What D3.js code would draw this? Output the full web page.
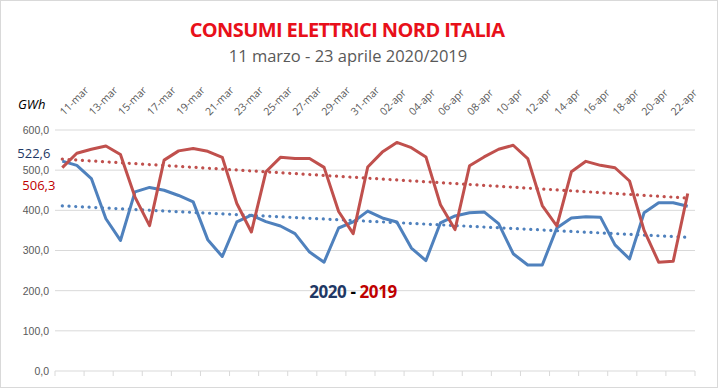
<!DOCTYPE html>
<meta charset="utf-8">
<style>
body { margin: 0; background: #fff; }
svg { display: block; font-family: "Open Sans", sans-serif; }
.grid line { stroke: #d9d9d9; stroke-width: 1px; }
.axis text { fill: #595959; font-size: 10.5px; }
.line { fill: none; stroke-width: 3px; stroke-linejoin: round; }
.trend { fill: none; stroke-width: 3.2px; stroke-linecap: round; stroke-dasharray: 0.1 6.6; }
</style>
<body>
<script src="https://d3js.org/d3.v7.min.js"></script>
<script>

// giorni dall'11 marzo al 23 aprile
var days = ["11-mar","12-mar","13-mar","14-mar","15-mar","16-mar","17-mar","18-mar","19-mar","20-mar",
  "21-mar","22-mar","23-mar","24-mar","25-mar","26-mar","27-mar","28-mar","29-mar","30-mar","31-mar",
  "01-apr","02-apr","03-apr","04-apr","05-apr","06-apr","07-apr","08-apr","09-apr","10-apr","11-apr",
  "12-apr","13-apr","14-apr","15-apr","16-apr","17-apr","18-apr","19-apr","20-apr","21-apr","22-apr","23-apr"];

// GWh 2020
var values2020 = [522.6,512,479,379,325,446,457,450,437,421,327,285,371,388,372,361,342,296,271,356,371,
  398,381,371,306,275,369,386,394,396,367,292,264,264,356,381,384,383,314,279,394,419,419,410];

// GWh 2019
var values2019 = [506.3,542,552,560,539,433,362,525,548,554,547,532,417,346,496,532,529,529,507,397,342,
  508,545,569,556,533,414,352,511,533,552,562,529,412,361,496,522,512,506,473,350,271,273,442];

var yTicks = [0, 100, 200, 300, 400, 500, 600];

var W = 718, H = 388;
var margin = {top: 130, right: 23, bottom: 17, left: 55},
    width = W - margin.left - margin.right,
    height = H - margin.top - margin.bottom;

var it = d3.formatLocale({decimal: ",", thousands: ".", grouping: [3], currency: ["", ""]});
var fmt = it.format(".1f");

var svgRoot = d3.select("body").append("svg")
    .attr("width", W)
    .attr("height", H);

svgRoot.append("rect")
    .attr("x", 0.5).attr("y", 0.5)
    .attr("width", W - 1).attr("height", H - 1)
    .attr("fill", "#fff").attr("stroke", "#d9d9d9");

// titoli
svgRoot.append("text")
    .attr("x", 347).attr("y", 37)
    .attr("text-anchor", "middle")
    .style("font-size", "20px")
    .style("font-weight", "bold")
    .style("letter-spacing", "-0.6px")
    .style("fill", "#e8101a")
    .text("CONSUMI ELETTRICI NORD ITALIA");

svgRoot.append("text")
    .attr("x", 348).attr("y", 62)
    .attr("text-anchor", "middle")
    .style("font-size", "16.5px")
    .style("fill", "#595959")
    .text("11 marzo - 23 aprile 2020/2019");

svgRoot.append("text")
    .attr("x", 18).attr("y", 109)
    .style("font-size", "13px")
    .style("font-style", "italic")
    .style("fill", "#000")
    .text("GWh");

var svg = svgRoot.append("g")
    .attr("transform", "translate(" + margin.left + "," + margin.top + ")");

var x = d3.scaleBand().domain(days).range([0, width]);
var y = d3.scaleLinear().domain([0, 600]).range([height, 0]);
var cx = function(i) { return x(days[i]) + x.bandwidth() / 2; };

// griglia
svg.append("g")
    .attr("class", "grid")
    .selectAll("line")
    .data(yTicks.filter(function(d) { return d > 0; }))
  .enter().append("line")
    .attr("x1", 0).attr("x2", width)
    .attr("y1", function(d) { return y(d); })
    .attr("y2", function(d) { return y(d); });

// asse Y
var yAxis = svg.append("g")
    .attr("class", "axis")
    .call(d3.axisLeft(y).tickValues(yTicks).tickFormat(fmt).tickSize(0).tickPadding(6));
yAxis.select(".domain").remove();

// asse X in basso (solo tacche ogni 2 giorni)
svg.append("line")
    .attr("x1", 0).attr("x2", width)
    .attr("y1", height).attr("y2", height)
    .attr("stroke", "#d9d9d9");
svg.append("g")
    .selectAll("line")
    .data(days.filter(function(d, i) { return i % 2 === 0; }).concat(["end"]))
  .enter().append("line")
    .attr("x1", function(d) { return d === "end" ? width : x(d); })
    .attr("x2", function(d) { return d === "end" ? width : x(d); })
    .attr("y1", height).attr("y2", height + 5)
    .attr("stroke", "#d9d9d9");

// etichette in alto ruotate
svg.append("g")
    .attr("class", "axis")
    .selectAll("text")
    .data(days.filter(function(d, i) { return i % 2 === 0; }))
  .enter().append("text")
    .attr("transform", function(d) {
      return "translate(" + (x(d) + x.bandwidth() / 2 + 2) + "," + (-14) + ") rotate(-45)";
    })
    .text(function(d) { return d; });

// linee di tendenza (regressione lineare)
function trend(vals) {
  var n = vals.length, sx = 0, sy = 0, sxy = 0, sxx = 0;
  vals.forEach(function(v, i) { sx += i; sy += v; sxy += i * v; sxx += i * i; });
  var b = (n * sxy - sx * sy) / (n * sxx - sx * sx);
  var a = (sy - b * sx) / n;
  return [[0, a], [n - 1, a + b * (n - 1)]];
}

var tline = d3.line()
    .x(function(d) { return cx(d[0]); })
    .y(function(d) { return y(d[1]); });

svg.append("path")
    .datum(trend(values2019))
    .attr("class", "trend")
    .attr("stroke", "#c0504d")
    .attr("d", tline);

svg.append("path")
    .datum(trend(values2020))
    .attr("class", "trend")
    .attr("stroke", "#4f81bd")
    .attr("d", tline);

var valueline = d3.line()
    .x(function(d, i) { return cx(i); })
    .y(function(d) { return y(d); });

svg.append("path")
    .datum(values2020)
    .attr("class", "line")
    .attr("stroke", "#4f81bd")
    .attr("d", valueline);

svg.append("path")
    .datum(values2019)
    .attr("class", "line")
    .attr("stroke", "#c0504d")
    .attr("d", valueline);

// etichette primo valore
svg.append("text")
    .attr("x", cx(0) - 45).attr("y", y(values2020[0]) - 3)
    .style("font-size", "13px")
    .style("fill", "#1f3864")
    .text(fmt(values2020[0]));

svg.append("text")
    .attr("x", cx(0) - 40).attr("y", y(values2019[0]) + 22)
    .style("font-size", "13px")
    .style("fill", "#c00000")
    .text(fmt(values2019[0]));

// legenda al centro
var leg = svg.append("text")
    .attr("x", 298).attr("y", 168)
    .attr("text-anchor", "middle")
    .style("font-size", "17px")
    .style("font-weight", "bold")
    .style("letter-spacing", "-0.4px");
leg.append("tspan").style("fill", "#1f3864").text("2020");
leg.append("tspan").style("fill", "#000").text(" - ");
leg.append("tspan").style("fill", "#c00000").text("2019");

</script>
</body>
